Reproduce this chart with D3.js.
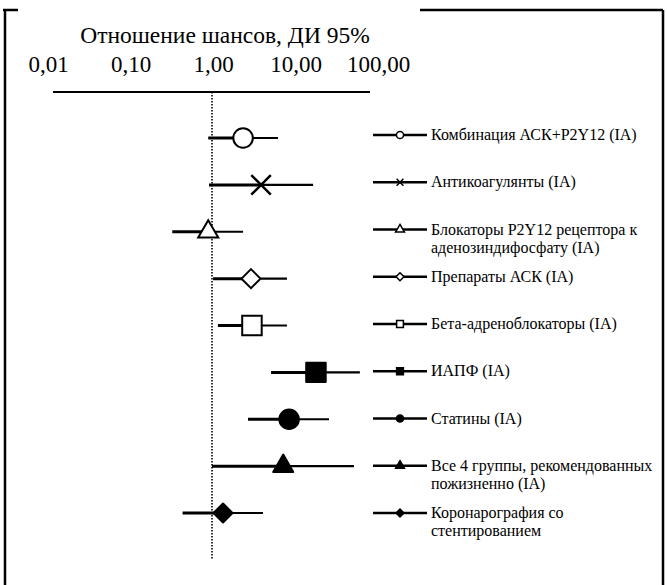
<!DOCTYPE html>
<html>
<head>
<meta charset="utf-8">
<script src="https://cdn.jsdelivr.net/npm/d3@7"></script>
<style>
  body { margin: 0; background: #fff; }
  svg { display: block; }
  text { font-family: "Liberation Serif", "Times New Roman", serif; fill: #000; }
</style>
</head>
<body>
<svg width="667" height="585"></svg>
<script>
    // data
    const groups = [
        "Комбинация АСК+Р2Y12 (IA)",
        "Антикоагулянты (IA)",
        "Блокаторы Р2Y12 рецептора к|аденозиндифосфату (IA)",
        "Препараты АСК (IA)",
        "Бета-адреноблокаторы (IA)",
        "ИАПФ (IA)",
        "Статины (IA)",
        "Все 4 группы, рекомендованных|пожизненно (IA)",
        "Коронарография со|стентированием"
    ];
    const oddsRatio = [2.38, 3.93, 0.90, 2.97, 3.05, 18.2, 8.6, 7.3, 1.36];
    const lowerCI   = [0.90, 0.92, 0.33, 1.03, 1.18, 5.2, 2.73, 1.0, 0.44];
    const upperCI   = [6.3, 16.8, 2.38, 8.1, 8.1, 62, 26.2, 52.6, 4.15];
    const markers   = ["circle", "times", "triangle", "diamond", "square", "square", "circle", "triangle", "diamond"];
    const filled    = [false, false, false, false, false, true, true, true, true];
    const tickValues = [0.01, 0.1, 1, 10, 100];
    const tickLabels = ["0,01", "0,10", "1,00", "10,00", "100,00"];
    const title = "Отношение шансов, ДИ 95%";

    const svg = d3.select("svg");

    const x = d3.scaleLog().domain([0.01, 100]).range([47, 377]);
    const y = d3.scalePoint().domain(d3.range(groups.length)).range([138, 513]);
    const yLegend = d3.scalePoint().domain(d3.range(groups.length)).range([135, 513]);

    const symbolTypes = {
        circle: d3.symbolCircle,
        times: d3.symbolTimes,
        triangle: d3.symbolTriangle,
        diamond: d3.symbolDiamond2,
        square: d3.symbolSquare
    };
    const bigSize = { circle: 300, times: 250, triangle: 175, diamond: 230, square: 380 };
    const smallSize = { circle: 40, times: 32, triangle: 34, diamond: 40, square: 46 };

    // frame
    svg.append("path")
        .attr("d", "M3,10H18 M5,10V585 M420,10H663 M663,10V585")
        .attr("fill", "none")
        .attr("stroke", "#000")
        .attr("stroke-width", 2.5);

    // title and tick labels
    svg.append("text")
        .attr("x", 225).attr("y", 43)
        .attr("text-anchor", "middle")
        .attr("font-size", 23.5)
        .text(title);

    svg.selectAll(".tick-label")
        .data(tickValues)
        .enter().append("text")
            .attr("class", "tick-label")
            .attr("x", (d) => x(d) + 1.5)
            .attr("y", 72)
            .attr("text-anchor", "middle")
            .attr("font-size", 23)
            .text((d, i) => tickLabels[i]);

    // axis line
    svg.append("line")
        .attr("x1", 53).attr("x2", 370)
        .attr("y1", 92).attr("y2", 92)
        .attr("stroke", "#000")
        .attr("stroke-width", 2);

    // reference line at OR = 1
    svg.append("line")
        .attr("x1", x(1)).attr("x2", x(1))
        .attr("y1", 92).attr("y2", 560)
        .attr("stroke", "#000")
        .attr("stroke-width", 1.6)
        .attr("stroke-dasharray", "1.5,1.5");

    const rows = svg.selectAll(".row")
        .data(d3.range(groups.length))
        .enter().append("g")
            .attr("class", "row");

    // confidence intervals: lower half drawn heavier than upper half
    rows.append("line")
        .attr("x1", (i) => x(lowerCI[i]))
        .attr("x2", (i) => x(oddsRatio[i]))
        .attr("y1", (i) => y(i)).attr("y2", (i) => y(i))
        .attr("stroke", "#000")
        .attr("stroke-width", 3);

    rows.append("line")
        .attr("x1", (i) => x(oddsRatio[i]))
        .attr("x2", (i) => x(upperCI[i]))
        .attr("y1", (i) => y(i)).attr("y2", (i) => y(i))
        .attr("stroke", "#000")
        .attr("stroke-width", 2.2);

    rows.append("path")
        .attr("transform", (i) => `translate(${x(oddsRatio[i])},${y(i)})`)
        .attr("d", (i) => d3.symbol(symbolTypes[markers[i]], bigSize[markers[i]])())
        .attr("fill", (i) => filled[i] ? "#000" : "#fff")
        .attr("stroke", "#000")
        .attr("stroke-width", (i) => markers[i] === "times" ? 2.5 : 2)
        .attr("stroke-linejoin", (i) => filled[i] ? "round" : "miter");

    // legend
    const legend = svg.selectAll(".legend")
        .data(d3.range(groups.length))
        .enter().append("g")
            .attr("class", "legend")
            .attr("transform", (i) => `translate(0,${yLegend(i)})`);

    legend.append("line")
        .attr("x1", 373).attr("x2", 427)
        .attr("stroke", "#000")
        .attr("stroke-width", 2.5);

    legend.append("path")
        .attr("transform", "translate(400,0)")
        .attr("d", (i) => d3.symbol(symbolTypes[markers[i]], smallSize[markers[i]])())
        .attr("fill", (i) => filled[i] ? "#000" : "#fff")
        .attr("stroke", "#000")
        .attr("stroke-width", 1.5);

    legend.each(function(i) {
        const lines = groups[i].split("|");
        d3.select(this).selectAll("text")
            .data(lines)
            .enter().append("text")
                .attr("x", 431)
                .attr("y", (d, k) => 5 + k * 18)
                .attr("font-size", 16)
                .text((d) => d);
    });
</script>
</body>
</html>
